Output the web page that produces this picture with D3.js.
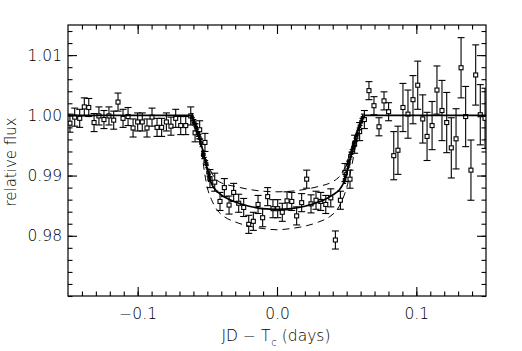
<!DOCTYPE html>
<html><head><meta charset="utf-8">
<script src="https://cdn.jsdelivr.net/npm/d3@7"></script>
<style>
body{margin:0;background:#fff}
svg{display:block}
text{font-family:"DejaVu Sans",sans-serif;fill:#000}
</style>
</head><body>
<svg id="c" width="522" height="351"></svg>
<script>
// Regular-cadence observations
const obsX = [
-0.1486,-0.1452,-0.1416,-0.1383,-0.1351,-0.1313,-0.1278,-0.1242,-0.1206,-0.1172,
-0.1141,-0.1105,-0.1069,-0.1033,-0.1000,-0.0967,-0.0933,-0.0897,-0.0861,-0.0828,
-0.0794,-0.0761,-0.0727,-0.0691,-0.0655,-0.0619,-0.0588,-0.0555,-0.0517,-0.0481,
-0.0447,-0.0409,-0.0378,-0.0344,-0.0311,-0.0275,-0.0239,-0.0203,-0.0170,-0.0136,
-0.0103,-0.0067,-0.0029,0.0005,0.0038,0.0072,0.0106,0.0141,0.0177,0.0213,
0.0244,0.0280,0.0314,0.0350,0.0386,0.0419,0.0455,0.0488,0.0524,0.0557,
0.0593,0.0627,0.0660,0.0696,0.0732,0.0768,0.0801,0.0838,0.0868,0.0904,
0.0940,0.0976,0.1010,0.1046,0.1077,0.1113,0.1148,0.1184,0.1218,0.1251,
0.1285,0.1321,0.1354,0.1392,0.1426,0.1459,0.1493];
const obsY = [
0.9987,0.9997,0.9995,1.0014,1.0013,0.9988,0.9999,0.9993,0.9999,0.9992,
1.0022,0.9995,0.9998,0.9979,0.9989,0.9989,0.9979,0.9997,0.9980,0.9980,
0.9989,0.9982,0.9995,0.9983,0.9983,0.9999,0.9971,0.9976,0.9955,0.9895,
0.9889,0.9857,0.9880,0.9851,0.9872,0.9854,0.9847,0.9819,0.9824,0.9852,
0.9830,0.9865,0.9845,0.9845,0.9839,0.9858,0.9857,0.9833,0.9855,0.9894,
0.9853,0.9859,0.9857,0.9852,0.9863,0.9793,0.9859,0.9905,0.9894,0.9952,
0.9973,0.9993,1.0041,1.0016,0.9981,1.0024,1.0006,0.9933,0.9942,1.0013,
1.0002,1.0026,1.0050,0.9994,0.9965,0.9983,1.0042,1.0008,0.9988,0.9946,
0.9961,1.0079,0.9998,0.9909,1.0067,1.0001,0.9995];
const obsErr = [
0.0015,0.0015,0.0015,0.0015,0.0015,0.0015,0.0015,0.0015,0.0015,0.0015,
0.0015,0.0015,0.0015,0.0015,0.0015,0.0015,0.0015,0.0015,0.0015,0.0015,
0.0015,0.0015,0.0015,0.0015,0.0015,0.0015,0.0015,0.0015,0.0015,0.0015,
0.0015,0.0015,0.0015,0.0015,0.0015,0.0015,0.0015,0.0015,0.0015,0.0015,
0.0015,0.0015,0.0015,0.0015,0.0015,0.0015,0.0015,0.0015,0.0015,0.0015,
0.0015,0.0015,0.0015,0.0015,0.0015,0.0015,0.0015,0.0015,0.0015,0.0015,
0.0015,0.0015,0.0015,0.0015,0.0015,0.0015,0.0015,0.0040,0.0040,0.0040,
0.0040,0.0040,0.0040,0.0040,0.0040,0.0040,0.0040,0.0050,0.0050,0.0050,
0.0050,0.0050,0.0050,0.0050,0.0050,0.0050,0.0050];

// High-cadence ingress / egress observations
const denseX = [
-0.0610,-0.0600,-0.0590,-0.0580,-0.0570,-0.0562,-0.0553,-0.0545,-0.0533,-0.0525,
-0.0515,-0.0505,-0.0495,-0.0485,
0.0485,0.0495,0.0507,0.0515,0.0524,0.0533,0.0543,0.0550,0.0560,0.0572,
0.0582,0.0592,0.0603,0.0614];
const denseY = [
0.9997,0.9990,0.9987,0.9980,0.9971,0.9967,0.9962,0.9954,0.9934,0.9935,
0.9924,0.9919,0.9905,0.9896,
0.9893,0.9903,0.9918,0.9920,0.9933,0.9937,0.9942,0.9951,0.9956,0.9963,
0.9973,0.9982,0.9989,0.9996];
const denseErr = [
0.0006,0.0006,0.0006,0.0006,0.0006,0.0006,0.0006,0.0006,0.0006,0.0006,
0.0006,0.0006,0.0006,0.0006,
0.0006,0.0006,0.0006,0.0006,0.0006,0.0006,0.0006,0.0006,0.0006,0.0006,
0.0006,0.0006,0.0006,0.0006];

// Best-fit model (solid)
const modelX = [-0.15,-0.062,-0.060,-0.058,-0.056,-0.054,-0.052,-0.050,-0.048,-0.046,
-0.044,-0.040,-0.035,-0.030,-0.020,-0.010,0.000,0.010,0.020,0.030,
0.035,0.040,0.045,0.047,0.049,0.051,0.053,0.055,0.057,0.059,
0.061,0.063,0.15];
const modelY = [1.0000,1.0000,0.9992,0.9980,0.9965,0.9948,0.9929,0.9910,0.9893,0.9882,
0.9876,0.9868,0.9861,0.9856,0.9849,0.9845,0.9844,0.9845,0.9849,0.9856,
0.9861,0.9868,0.9877,0.9884,0.9895,0.9912,0.9931,0.9950,0.9967,0.9982,
0.9993,1.0000,1.0000];

// Envelope models (dashed)
const upperX = [-0.056,-0.054,-0.052,-0.050,-0.048,-0.045,-0.040,-0.030,-0.020,-0.010,0.000,
0.010,0.020,0.030,0.040,0.045,0.048,0.050,0.052,0.054,0.056,0.058];
const upperY = [0.9965,0.9950,0.9935,0.9920,0.9910,0.9897,0.9888,0.9882,0.9877,0.9874,0.9873,
0.9874,0.9877,0.9882,0.9890,0.9899,0.9910,0.9920,0.9935,0.9950,0.9965,0.9980];
const lowerX = [-0.058,-0.056,-0.054,-0.052,-0.050,-0.047,-0.043,-0.038,-0.030,-0.020,-0.010,0.000,
0.010,0.020,0.030,0.038,0.043,0.047,0.050,0.052,0.054,0.056,0.058,0.060];
const lowerY = [0.9980,0.9962,0.9938,0.9905,0.9880,0.9860,0.9843,0.9832,0.9823,0.9816,0.9812,0.9810,
0.9812,0.9816,0.9823,0.9832,0.9843,0.9860,0.9880,0.9898,0.9920,0.9945,0.9968,0.9986];

const xTickValues = [-0.1, 0.0, 0.1];
const xTickLabels = ["\u22120.1", "0.0", "0.1"];
const yTickValues = [0.98, 0.99, 1.00, 1.01];
const yTickLabels = ["0.98", "0.99", "1.00", "1.01"];
const xMinorStep = 0.01, yMinorStep = 0.002;

const L = 68, R = 486, T = 25, B = 296;
const svg = d3.select("#c");
const x = d3.scaleLinear().domain([-0.15, 0.15]).range([L, R]);
const y = d3.scaleLinear().domain([0.970, 1.015]).range([B, T]);

svg.append("defs").append("clipPath").attr("id","clip")
  .append("rect").attr("x",L).attr("y",T).attr("width",R-L).attr("height",B-T);

const plot = svg.append("g").attr("clip-path","url(#clip)");

// Model lines
const line = d3.line().x(d=>x(d[0])).y(d=>y(d[1])).curve(d3.curveMonotoneX);
plot.append("path").datum(upperX.map((v,i)=>[v,upperY[i]]))
  .attr("d",line).attr("fill","none").attr("stroke","#000").attr("stroke-width",1).attr("stroke-dasharray","7,5");
plot.append("path").datum(lowerX.map((v,i)=>[v,lowerY[i]]))
  .attr("d",line).attr("fill","none").attr("stroke","#000").attr("stroke-width",1).attr("stroke-dasharray","7,5");
plot.append("path").datum(modelX.map((v,i)=>[v,modelY[i]]))
  .attr("d",line).attr("fill","none").attr("stroke","#000").attr("stroke-width",1.7);

function drawPoints(xs, ys, es, cap, sz){
  const g = plot.append("g").attr("stroke","#000").attr("fill","none").attr("stroke-width",1.1);
  xs.forEach((v,i)=>{
    const cx = x(v), cy = y(ys[i]);
    const y1 = y(ys[i]+es[i]), y2 = y(ys[i]-es[i]);
    g.append("line").attr("x1",cx).attr("x2",cx).attr("y1",y1).attr("y2",cy-sz/2);
    g.append("line").attr("x1",cx).attr("x2",cx).attr("y1",cy+sz/2).attr("y2",y2);
    g.append("line").attr("x1",cx-cap).attr("x2",cx+cap).attr("y1",y1).attr("y2",y1);
    g.append("line").attr("x1",cx-cap).attr("x2",cx+cap).attr("y1",y2).attr("y2",y2);
    g.append("rect").attr("x",cx-sz/2).attr("y",cy-sz/2).attr("width",sz).attr("height",sz);
  });
}
drawPoints(denseX, denseY, denseErr, 1.5, 2.5);
drawPoints(obsX, obsY, obsErr, 3.5, 4);

// Frame
svg.append("rect").attr("x",L).attr("y",T).attr("width",R-L).attr("height",B-T)
  .attr("fill","none").attr("stroke","#000").attr("stroke-width",1.2);

// Ticks (inward on all four sides)
const xMinor = d3.range(-0.14, 0.1401, xMinorStep);
const yMinor = d3.range(0.970, 1.0151, yMinorStep);
function axisG(ax, tr){ const g = svg.append("g").attr("transform",tr).call(ax); g.select(".domain").remove(); g.selectAll("line").attr("stroke-width",1.1); return g; }
axisG(d3.axisBottom(x).tickValues(xMinor).tickSize(-4.5).tickFormat(""), `translate(0,${B})`);
axisG(d3.axisTop(x).tickValues(xMinor).tickSize(-4.5).tickFormat(""), `translate(0,${T})`);
axisG(d3.axisLeft(y).tickValues(yMinor).tickSize(-4.5).tickFormat(""), `translate(${L},0)`);
axisG(d3.axisRight(y).tickValues(yMinor).tickSize(-4.5).tickFormat(""), `translate(${R},0)`);
axisG(d3.axisTop(x).tickValues(xTickValues).tickSize(-9).tickFormat(""), `translate(0,${T})`);
axisG(d3.axisRight(y).tickValues(yTickValues).tickSize(-9).tickFormat(""), `translate(${R},0)`);
const xb = axisG(d3.axisBottom(x).tickValues(xTickValues).tickSize(-9).tickPadding(12)
  .tickFormat((d,i)=>xTickLabels[i]), `translate(0,${B})`);
xb.selectAll("text").attr("font-size",15.5).attr("font-family","DejaVu Sans").attr("font-weight",300).attr("fill","#000");
const yl = axisG(d3.axisLeft(y).tickValues(yTickValues).tickSize(-9).tickPadding(6)
  .tickFormat((d,i)=>yTickLabels[i]), `translate(${L},0)`);
yl.selectAll("text").attr("font-size",15.5).attr("font-family","DejaVu Sans").attr("font-weight",300).attr("fill","#000");

// Axis titles
svg.append("text").attr("transform","translate(16,162) rotate(-90)")
  .attr("text-anchor","middle").attr("font-size",15).attr("font-weight",300).attr("fill","#000").text("relative flux");
const xt = svg.append("text").attr("x",276).attr("y",341).attr("text-anchor","middle")
  .attr("font-size",15.5).attr("font-weight",300).attr("fill","#000");
xt.append("tspan").text("JD \u2212 T");
xt.append("tspan").attr("dy",5).attr("dx",1).attr("font-size",10).text("c");
xt.append("tspan").attr("dy",-5).text(" (days)");
</script>
</body></html>
